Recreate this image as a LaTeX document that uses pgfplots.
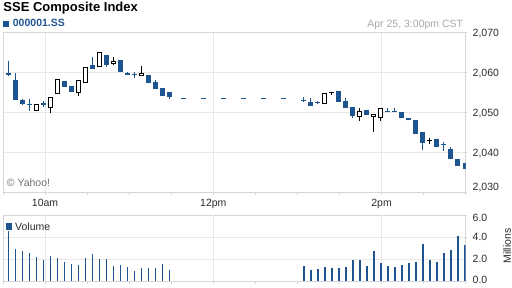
\documentclass[border=0pt]{standalone}
\usepackage{pgfplots}
\usepackage{pgfplotstable}
\pgfplotsset{compat=1.18}
\usepackage{fontspec}
\setmainfont{Liberation Sans}
\definecolor{cblue}{HTML}{1E5591}
\definecolor{cgrid}{HTML}{E8E8E8}
\definecolor{cbord}{HTML}{D6D6D6}
\definecolor{ctext}{HTML}{2B2B2B}
\definecolor{cgray}{HTML}{A8A8A8}
\definecolor{cyahoo}{HTML}{707070}

% x = minutes after 9:30; lo/hi = body bottom/top; L/H = low/high
\pgfplotstableread{
x lo hi L H
3.8 2059.4 2059.8 2059.2 2063.0
8.8 2053.1 2058.15 2053.1 2060.0
13.8 2052.1 2053.1 2052.0 2053.3
18.8 2052.0 2052.25 2050.45 2053.3
28.8 2051.9 2052.45 2051.4 2052.9
43.8 2056.5 2057.8 2056.5 2057.8
48.8 2055.2 2056.6 2055.2 2056.6
63.8 2060.8 2061.9 2060.8 2064.0
73.8 2061.9 2064.4 2061.3 2064.4
83.8 2060.2 2063.15 2060.2 2063.15
88.8 2059.5 2060.0 2059.4 2060.2
93.8 2059.4 2059.65 2058.6 2060.1
103.8 2057.3 2059.4 2057.3 2059.4
108.8 2055.9 2057.6 2055.9 2058.15
113.8 2054.2 2056.1 2054.2 2056.1
118.8 2054.0 2055.2 2053.3 2055.2
214.5 2053.0 2053.25 2052.55 2053.8
219.5 2051.7 2052.7 2051.7 2053.55
224.5 2052.45 2052.7 2052.1 2052.9
239.5 2052.7 2055.45 2052.7 2055.45
244.5 2051.2 2052.95 2051.2 2053.55
249.5 2049.2 2051.45 2048.55 2051.45
259.5 2049.4 2050.6 2049.4 2050.6
274.5 2050.1 2050.35 2050.1 2051.2
279.5 2050.1 2050.35 2050.1 2051.2
284.5 2048.55 2050.05 2048.55 2050.05
289.5 2048.1 2048.55 2048.1 2048.55
294.5 2044.55 2048.1 2044.55 2048.1
299.5 2042.3 2045.2 2040.6 2045.2
309.5 2041.4 2043.3 2041.4 2043.3
314.5 2041.75 2042.0 2040.4 2042.5
319.5 2038.3 2040.85 2038.3 2041.4
324.5 2036.7 2038.35 2036.7 2038.35
329.5 2035.8 2037.3 2035.8 2037.3
}\bluecandles

\pgfplotstableread{
x lo hi L H
23.8 2050.4 2052.1 2050.3 2052.2
33.8 2051.05 2053.8 2049.8 2053.8
38.8 2054.6 2058.3 2054.6 2058.3
53.8 2054.8 2058.15 2054.2 2058.15
58.8 2057.3 2061.3 2057.3 2061.3
68.8 2061.3 2065.2 2061.3 2065.2
78.8 2062.15 2062.9 2061.9 2064.0
98.8 2059.15 2060.0 2059.15 2061.7
229.5 2052.05 2055.0 2052.05 2055.0
254.5 2048.8 2050.4 2047.95 2051.05
264.5 2048.8 2049.55 2045.2 2049.55
269.5 2048.55 2051.05 2047.9 2051.05
}\hollowcandles

\pgfplotstableread{
x lo hi L H
234.5 2055.0 2055.25 2054.4 2055.25
304.5 2042.75 2043.0 2042.1 2043.5
}\blackcandles

\pgfplotstableread{
x v
3.8 4.57
8.8 2.9
13.8 2.75
18.8 2.58
23.8 2.2
28.8 1.94
33.8 2.3
38.8 2.12
43.8 1.76
48.8 1.58
53.8 1.45
58.8 2.12
63.8 2.48
68.8 2.0
73.8 2.0
78.8 1.4
83.8 1.48
88.8 1.3
93.8 0.91
98.8 1.18
103.8 1.18
108.8 1.18
113.8 1.58
118.8 1.0
214.5 1.35
219.5 0.98
224.5 1.08
229.5 1.29
234.5 1.2
239.5 1.2
244.5 1.29
249.5 1.9
254.5 1.9
259.5 1.38
264.5 2.77
269.5 1.66
274.5 1.38
279.5 1.29
284.5 1.45
289.5 1.6
294.5 1.75
299.5 3.38
304.5 1.9
309.5 1.75
314.5 2.58
319.5 2.83
324.5 4.06
329.5 3.29
}\volume

\pgfplotsset{
  common/.style={
    scale only axis, anchor=south west,
    width=462.7bp, xmin=0, xmax=330,
    axis line style={draw=cbord, line width=0.8bp},
    xtick={0,30,...,330},
    xtick pos=bottom, ytick pos=right,
    xtick align=outside, ytick align=center,
    major tick length=3bp,
    tick style={draw=cbord, line width=0.8bp},
    extra x ticks={30,150,270}, extra x tick labels={},
    extra x tick style={grid=major, tick style={draw=none}},
    yticklabel pos=right,
    ymajorgrids,
    major grid style={draw=cgrid, line width=0.8bp},
    ticklabel style={font=\fontsize{10.5bp}{12bp}\selectfont, text=ctext},
    yticklabel style={anchor=base west, yshift=-3.7bp, inner xsep=0pt, xshift=5.3bp},
  },
  wick/.style={draw=none, mark=none, forget plot,
    error bars/.cd, y dir=plus, y explicit, error mark=none,
    error bar style={draw=#1, line width=1bp, solid}},
  body/.style 2 args={draw=none, mark=none, forget plot,
    error bars/.cd, y dir=plus, y explicit, error mark=none,
    error bar style={draw=#1, line width=#2, solid}},
}

\begin{document}
\begin{tikzpicture}
\useasboundingbox (0,0) rectangle (512bp,288bp);

\begin{axis}[common,
  at={(3bp,95.7bp)}, height=159.6bp,
  ymin=2030, ymax=2070,
  xticklabels={,10am,,,,12pm,,,,2pm,,},
  xticklabel style={anchor=base, yshift=-10.7bp},
  ytick={2030,2040,2050,2060,2070},
  yticklabels={{\raisebox{5.6bp}{2,030}},{2,040},{2,050},{2,060},{2,070}},
]
% lunch break: last price carried as dashed line
\addplot[cblue, line width=1bp, dash pattern=on 5bp off 15bp, forget plot] coordinates {(127.1,2053.5) (202.1,2053.5)};
% wicks
\addplot[wick=cblue] table[x=x, y=L, y error plus expr=\thisrow{H}-\thisrow{L}] {\bluecandles};
\addplot[wick=black] table[x=x, y=L, y error plus expr=\thisrow{H}-\thisrow{L}] {\hollowcandles};
\addplot[wick=black] table[x=x, y=L, y error plus expr=\thisrow{H}-\thisrow{L}] {\blackcandles};
% bodies
\addplot[body={cblue}{5bp}] table[x=x, y=lo, y error plus expr=\thisrow{hi}-\thisrow{lo}] {\bluecandles};
\addplot[body={black}{5bp}] table[x=x, y=lo, y error plus expr=\thisrow{hi}-\thisrow{lo}] {\blackcandles};
\addplot[body={black}{5bp}] table[x=x, y=lo, y error plus expr=\thisrow{hi}-\thisrow{lo}] {\hollowcandles};
\addplot[body={white}{3bp}] table[x=x, y expr=\thisrow{lo}+0.25, y error plus expr=\thisrow{hi}-\thisrow{lo}-0.5] {\hollowcandles};
\end{axis}

\begin{axis}[common,
  at={(3bp,7bp)}, height=66bp,
  ymin=0, ymax=6,
  xticklabels={},
  ytick={0,2,4,6},
  yticklabels={{\raisebox{1bp}{0.0}},{2.0},{4.0},{\raisebox{-3bp}{6.0}}},
]
\addplot[ycomb, draw=cblue, line width=1.5bp, mark=none] table[x=x, y=v] {\volume};
\end{axis}

% header texts
\node[anchor=base west, inner sep=0pt, font=\bfseries\fontsize{13bp}{15bp}\selectfont] at (3.3bp,276.3bp) {SSE Composite Index};
\fill[cblue] (2.7bp,260.7bp) rectangle (9.3bp,267.3bp);
\node[anchor=base west, inner sep=0pt, text=cblue, font=\bfseries\fontsize{10.5bp}{12bp}\selectfont] at (12.7bp,261.3bp) {000001.SS};
\node[anchor=base east, inner sep=0pt, text=cgray, font=\fontsize{10.5bp}{12bp}\selectfont] at (463.3bp,260.3bp) {Apr 25, 3:00pm CST};
\node[anchor=base west, inner sep=0pt, text=cyahoo, font=\fontsize{10.5bp}{12bp}\selectfont] at (6.7bp,101.3bp) {© Yahoo!};
% volume legend
\fill[cblue] (6bp,57.5bp) rectangle (12bp,64.5bp);
\node[anchor=base west, inner sep=0pt, text=ctext, font=\fontsize{10.5bp}{12bp}\selectfont] at (15bp,57.5bp) {Volume};
\node[rotate=90, inner sep=0pt, text=ctext, font=\fontsize{10.5bp}{12bp}\selectfont] at (507bp,42bp) {Millions};
\end{tikzpicture}
\end{document}
